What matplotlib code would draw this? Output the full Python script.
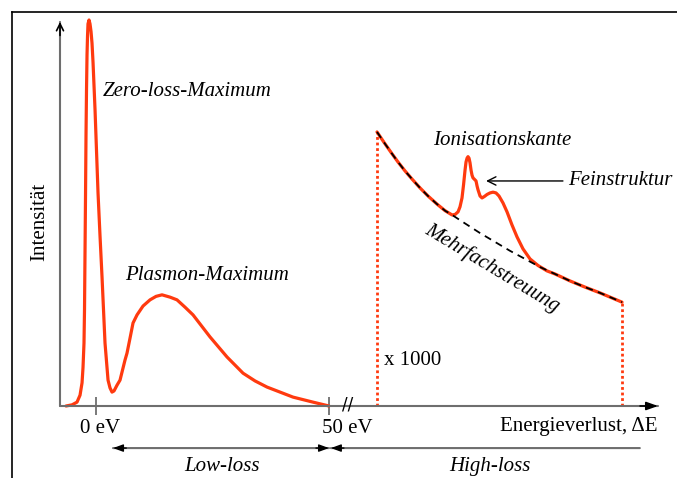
import matplotlib
matplotlib.use("Agg")
import matplotlib.pyplot as plt
from matplotlib.lines import Line2D

# low-loss part of the spectrum (energy in eV, intensity normalised to the zero-loss peak)
low_e = [-6.44, -5.15, -4.08, -3.43, -3.00, -2.79, -2.58, -2.47, -2.36, -2.25,
         -2.15, -2.04, -1.93, -1.82, -1.72, -1.50, -1.29, -1.07, -0.86, -0.64,
         -0.21, 0.43, 0.86, 1.29, 1.93, 2.58, 3.00, 3.43, 3.86, 4.51,
         5.15, 6.22, 6.65, 7.30, 7.94, 8.80, 10.09, 11.59, 12.88, 14.16,
         15.88, 17.38, 19.10, 20.82, 24.46, 28.11, 31.55, 34.12, 36.70, 39.49,
         42.28, 46.57, 50.0]
low_i = [0.0, 0.003, 0.010, 0.028, 0.060, 0.100, 0.163, 0.250, 0.400, 0.550,
         0.700, 0.820, 0.910, 0.960, 0.990, 1.0, 0.990, 0.970, 0.940, 0.890,
         0.767, 0.552, 0.440, 0.334, 0.163, 0.067, 0.047, 0.036, 0.039, 0.054,
         0.067, 0.119, 0.137, 0.176, 0.215, 0.236, 0.259, 0.275, 0.284, 0.288,
         0.282, 0.275, 0.256, 0.236, 0.179, 0.127, 0.085, 0.065, 0.049, 0.036,
         0.023, 0.010, 0.0]

# multiple scattering background (high-loss, x1000)
bg_e = [60.30, 61.80, 63.31, 64.81, 66.31, 67.81, 69.53, 71.25, 73.18, 74.90,
        76.40, 79.19, 82.41, 85.63, 88.84, 92.06, 95.28, 98.50, 101.72, 104.94,
        108.16, 112.88]
bg_i = [0.710, 0.683, 0.657, 0.632, 0.609, 0.588, 0.565, 0.544, 0.523, 0.506,
        0.495, 0.473, 0.448, 0.425, 0.402, 0.381, 0.360, 0.342, 0.324, 0.308,
        0.293, 0.269]

# high-loss spectrum with ionisation edge and fine structure (x1000)
high_e = [60.30, 61.80, 63.31, 64.81, 66.31, 67.81, 69.53, 71.25, 73.18, 74.90,
          76.40, 77.04, 77.69, 78.11, 78.54, 78.87, 79.19, 79.40, 79.62, 79.83,
          80.05, 80.26, 80.48, 80.69, 80.90, 81.23, 81.55, 81.77, 81.98, 82.41,
          82.84, 83.37, 83.91, 84.55, 85.20, 85.84, 86.48, 87.34, 88.20, 89.27,
          90.35, 91.63, 93.14, 94.85, 96.78, 98.50, 101.72, 104.94, 108.16, 112.88]
high_i = [0.710, 0.683, 0.657, 0.632, 0.609, 0.588, 0.565, 0.544, 0.523, 0.506,
          0.495, 0.496, 0.503, 0.516, 0.539, 0.573, 0.611, 0.632, 0.642, 0.646,
          0.642, 0.630, 0.611, 0.598, 0.591, 0.587, 0.583, 0.570, 0.560, 0.544,
          0.539, 0.543, 0.548, 0.552, 0.554, 0.552, 0.544, 0.526, 0.503, 0.469,
          0.438, 0.407, 0.381, 0.364, 0.350, 0.342, 0.324, 0.308, 0.293, 0.269]

tick_pos = [0, 50]
tick_labels = ["0 eV", "50 eV"]

RED = "#ff3a0f"
GRAY = "#6e6e6e"
SERIF = "Liberation Serif"
FS = 15

fig = plt.figure(figsize=(6.77, 4.78), dpi=100)
ax = fig.add_axes([60 / 677, 72 / 478, 598 / 677, 386 / 478])
ax.set_xlim(-7.73, 120.6)
ax.set_ylim(0, 1.0)
for s in ax.spines.values():
    s.set_visible(False)
ax.set_yticks([])
ax.set_xticks(tick_pos)
ax.set_xticklabels([])
ax.tick_params(axis="x", direction="inout", length=13, width=1.3, color=GRAY)

# frame lines (top + left)
fig.add_artist(Line2D([12 / 677, 1], [1 - 12 / 478] * 2, color="black", lw=1.2))
fig.add_artist(Line2D([12 / 677] * 2, [0, 1 - 12 / 478], color="black", lw=1.2))

# axes with arrows
ax.annotate("", xy=(0, 0.995), xytext=(0, 0), xycoords="axes fraction",
            arrowprops=dict(arrowstyle="-", color=GRAY, lw=1.5, shrinkA=0, shrinkB=0))
ax.annotate("", xy=(0, 0.995), xytext=(0, 0.96), xycoords="axes fraction",
            arrowprops=dict(arrowstyle="->,head_length=0.5,head_width=0.25", color="black",
                            lw=1.2, shrinkA=0, shrinkB=0))
ax.annotate("", xy=(1, 0), xytext=(0, 0), xycoords="axes fraction",
            arrowprops=dict(arrowstyle="-", color=GRAY, lw=1.5, shrinkA=0, shrinkB=0))
ax.annotate("", xy=(1, 0), xytext=(0.97, 0), xycoords="axes fraction",
            arrowprops=dict(arrowstyle="-|>,head_length=0.7,head_width=0.25", color="black",
                            lw=1.2, shrinkA=0, shrinkB=0))

# curves
ax.plot(low_e, low_i, color=RED, lw=2.3, solid_capstyle="round",
        solid_joinstyle="round", clip_on=False)
ax.plot(high_e, high_i, color=RED, lw=2.3, solid_capstyle="round",
        solid_joinstyle="round", zorder=3)
ax.plot(bg_e, bg_i, color="black", lw=1.3, ls=(0, (4, 3)), zorder=4)
ax.vlines([high_e[0], high_e[-1]], 0, [high_i[0], high_i[-1]], color=RED,
          lw=2, linestyles=(0, (1, 1)))

# tick labels and axis break
tx = ax.get_xaxis_transform()
for p, lab, dx in zip(tick_pos, tick_labels, [0.9, 3.9]):
    ax.text(p + dx, -0.057, lab, transform=tx, ha="center", va="center",
            family=SERIF, fontsize=FS)
ax.text(54.0, 0.003, "//", transform=tx, ha="center", va="center", fontsize=12,
        family="DejaVu Sans", color="black")

ax.text(1.0, -0.054, "Energieverlust, ΔE", transform=ax.transAxes, ha="right",
        va="center", family=SERIF, fontsize=FS)
fig.text(40 / 677, 1 - 222 / 478, "Intensität", rotation=90, ha="center",
         va="center", family=SERIF, fontsize=FS)

# low-loss / high-loss arrows: gray shafts, black heads
ylev = -0.109
for x0, x1 in [(3.65, 50), (50.4, 116.7)]:
    ax.annotate("", xy=(x0, ylev), xytext=(x1, ylev), xycoords=tx,
                arrowprops=dict(arrowstyle="-", color=GRAY, lw=1.5,
                                shrinkA=0, shrinkB=0))
for tip, tail in [(3.65, 6.5), (50, 47.2), (50.4, 53.2)]:
    ax.annotate("", xy=(tip, ylev), xytext=(tail, ylev), xycoords=tx,
                arrowprops=dict(arrowstyle="-|>,head_length=0.6,head_width=0.22",
                                color="black", lw=1.0, shrinkA=0, shrinkB=0))
ax.text(27.0, -0.158, "Low-loss", transform=tx, ha="center", va="center",
        family=SERIF, style="italic", fontsize=FS)
ax.text(84.5, -0.158, "High-loss", transform=tx, ha="center", va="center",
        family=SERIF, style="italic", fontsize=FS)

# annotations
ax.text(1.5, 0.816, "Zero-loss-Maximum", ha="left", va="center",
        family=SERIF, style="italic", fontsize=FS)
ax.text(6.2, 0.337, "Plasmon-Maximum", ha="left", va="center",
        family=SERIF, style="italic", fontsize=FS)
ax.text(87.1, 0.689, "Ionisationskante", ha="center", va="center",
        family=SERIF, style="italic", fontsize=FS)
ax.text(101.3, 0.585, "Feinstruktur", ha="left", va="center",
        family=SERIF, style="italic", fontsize=FS)
ax.annotate("", xy=(83.7, 0.583), xytext=(100.2, 0.583),
            arrowprops=dict(arrowstyle="->,head_length=0.6,head_width=0.3",
                            color="black", lw=1.0, shrinkA=0, shrinkB=0))
ax.text(85.0, 0.358, "Mehrfachstreuung", ha="center", va="center", rotation=-31,
        rotation_mode="anchor", family=SERIF, style="italic", fontsize=FS)
ax.text(61.9, 0.119, "x 1000", ha="left", va="center", family=SERIF, fontsize=FS)

fig.savefig("out.png", dpi=100)
